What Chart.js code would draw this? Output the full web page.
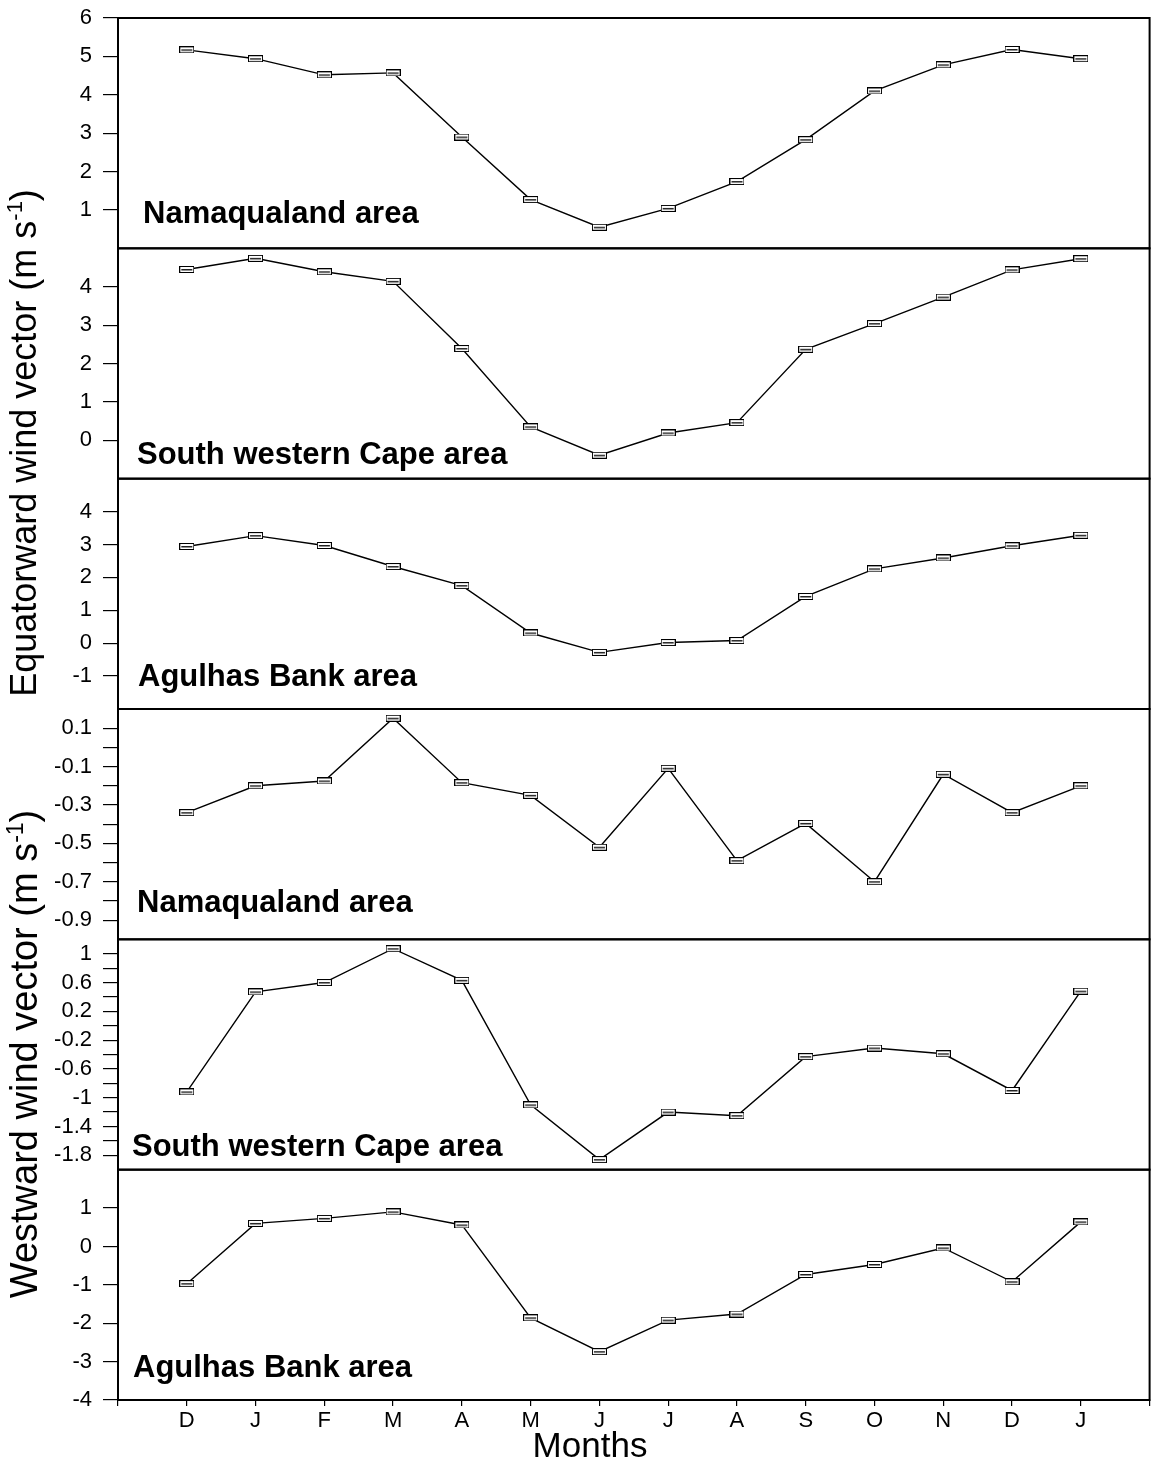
<!DOCTYPE html>
<html>
<head>
<meta charset="utf-8">
<script src="https://cdn.jsdelivr.net/npm/chart.js@4.4.1/dist/chart.umd.min.js"></script>
<style>
  html, body { margin: 0; padding: 0; background: #fff; }
  #wrap { width: 1158px; height: 1463px; position: relative; }
</style>
</head>
<body>
<div id="wrap"><canvas id="c" width="1158" height="1463"></canvas></div>
<script>
// Months, December to the following January
const months = ['D', 'J', 'F', 'M', 'A', 'M', 'J', 'J', 'A', 'S', 'O', 'N', 'D', 'J'];

// Equatorward wind vector (m s-1)
const equatorNamaqualand = [5.17, 4.94, 4.52, 4.57, 2.90, 1.27, 0.55, 1.04, 1.74, 2.83, 4.10, 4.78, 5.18, 4.94];
const equatorSouthWesternCape = [4.45, 4.74, 4.39, 4.14, 2.39, 0.35, -0.39, 0.19, 0.46, 2.37, 3.04, 3.73, 4.44, 4.73];
const equatorAgulhasBank = [2.94, 3.27, 2.97, 2.33, 1.75, 0.31, -0.28, 0.02, 0.08, 1.42, 2.26, 2.59, 2.96, 3.28];

// Westward wind vector (m s-1)
const westNamaqualand = [-0.34, -0.20, -0.175, 0.152, -0.184, -0.25, -0.52, -0.109, -0.59, -0.396, -0.70, -0.14, -0.34, -0.20];
const westSouthWesternCape = [-0.92, 0.47, 0.60, 1.07, 0.63, -1.10, -1.86, -1.20, -1.25, -0.43, -0.31, -0.39, -0.90, 0.48];
const westAgulhasBank = [-0.97, 0.60, 0.73, 0.90, 0.56, -1.86, -2.74, -1.92, -1.76, -0.73, -0.47, -0.04, -0.92, 0.64];

// Panel names, top to bottom
const panelNames = ['Namaqualand area', 'South western Cape area', 'Agulhas Bank area',
                    'Namaqualand area', 'South western Cape area', 'Agulhas Bank area'];
const panelSeries = [equatorNamaqualand, equatorSouthWesternCape, equatorAgulhasBank,
                     westNamaqualand, westSouthWesternCape, westAgulhasBank];

// Axis ranges for each panel
const panelMin = [0, -1, -2, -1, -2, -4];
const panelMax = [6, 5, 5, 0.2, 1.2, 2];

// Tick marks and their labels for each panel ('' = unlabelled mark)
const panelTicks = [
  [1, 2, 3, 4, 5, 6],
  [0, 1, 2, 3, 4],
  [-1, 0, 1, 2, 3, 4],
  [0.1, 0, -0.1, -0.2, -0.3, -0.4, -0.5, -0.6, -0.7, -0.8, -0.9],
  [1, 0.8, 0.6, 0.4, 0.2, 0, -0.2, -0.4, -0.6, -0.8, -1, -1.2, -1.4, -1.6, -1.8],
  [1, 0, -1, -2, -3, -4]
];
const panelTickLabels = [
  ['1', '2', '3', '4', '5', '6'],
  ['0', '1', '2', '3', '4'],
  ['-1', '0', '1', '2', '3', '4'],
  ['0.1', '', '-0.1', '', '-0.3', '', '-0.5', '', '-0.7', '', '-0.9'],
  ['1', '', '0.6', '', '0.2', '', '-0.2', '', '-0.6', '', '-1', '', '-1.4', '', '-1.8'],
  ['1', '0', '-1', '-2', '-3', '-4']
];

// x positions: one empty slot either side of the 14 months
const xTicks = [-1, 0, 1, 2, 3, 4, 5, 6, 7, 8, 9, 10, 11, 12, 13, 14];

const FONT = "'Liberation Sans', Arial, Helvetica, sans-serif";

// Small boxed marker with a bar through it
function makeMarker() {
  const c = document.createElement('canvas');
  c.width = 15; c.height = 7;
  const g = c.getContext('2d');
  g.fillStyle = '#fff';
  g.fillRect(0, 0, 15, 7);
  g.strokeStyle = '#000';
  g.lineWidth = 1;
  g.strokeRect(0.5, 0.5, 14, 6);
  g.fillStyle = '#222';
  g.fillRect(2, 3, 11, 1.5);
  return c;
}
const marker = makeMarker();

// Per-panel placement of the area names: [left inset, baseline above panel bottom]
const nameInset = [[25, 25], [19, 15], [20, 23], [19, 27], [14, 14], [15, 23]];

const datasets = panelSeries.map((series, p) => ({
  label: panelNames[p],
  data: series.map((v, i) => ({ x: i, y: v })),
  xAxisID: 'x',
  yAxisID: 'y' + p,
  borderColor: '#000',
  borderWidth: 1.4,
  pointStyle: marker,
  pointRadius: 7,
  pointHoverRadius: 7,
  fill: false,
  tension: 0
}));

function noEdgePadding(s) {
  s.paddingTop = 0; s.paddingBottom = 0; s.paddingLeft = 0; s.paddingRight = 0;
}

const scales = {
  x: {
    type: 'linear',
    position: 'bottom',
    min: -1,
    max: 14,
    afterBuildTicks: s => { s.ticks = xTicks.map(v => ({ value: v })); },
    afterFit: s => { s.height = 63; noEdgePadding(s); },
    ticks: {
      autoSkip: false,
      maxRotation: 0,
      padding: 2,
      color: '#000',
      font: { family: FONT, size: 22 },
      callback: v => months[Math.round(v)] || ''
    },
    grid: { drawOnChartArea: false, drawTicks: true, tickLength: 6, color: '#000', lineWidth: 1.2 },
    border: { display: true, color: '#000', width: 2 }
  }
};

panelSeries.forEach((_, p) => {
  scales['y' + p] = {
    type: 'linear',
    position: 'left',
    stack: 'panels',
    stackWeight: 1,
    weight: 6 - p,
    offset: false,
    min: panelMin[p],
    max: panelMax[p],
    afterBuildTicks: s => { s.ticks = panelTicks[p].map(v => ({ value: v })); },
    afterFit: s => { s.width = 118; noEdgePadding(s); },
    ticks: {
      autoSkip: false,
      padding: 11,
      color: '#000',
      font: { family: FONT, size: 22 },
      callback: (v, i) => panelTickLabels[p][i]
    },
    grid: { drawOnChartArea: false, drawTicks: true, tickLength: 15, color: '#000', lineWidth: 1.2 },
    border: { display: true, color: '#000', width: 1.6 }
  };
});

// Rotated axis title with a superscript exponent
function drawVerticalTitle(ctx, main, sup, tail, cx, cy, size, supSize) {
  ctx.save();
  ctx.fillStyle = '#000';
  ctx.textBaseline = 'alphabetic';
  ctx.textAlign = 'left';
  ctx.font = size + 'px ' + FONT;
  const wMain = ctx.measureText(main).width;
  const wTail = ctx.measureText(tail).width;
  ctx.font = supSize + 'px ' + FONT;
  const wSup = ctx.measureText(sup).width;
  const total = wMain + wSup + wTail;
  ctx.translate(cx, cy);
  ctx.rotate(-Math.PI / 2);
  let x = -total / 2;
  ctx.font = size + 'px ' + FONT;
  ctx.fillText(main, x, 0);
  x += wMain;
  ctx.font = supSize + 'px ' + FONT;
  ctx.fillText(sup, x, -size * 0.38);
  x += wSup;
  ctx.font = size + 'px ' + FONT;
  ctx.fillText(tail, x, 0);
  ctx.restore();
}

const framePlugin = {
  id: 'panelFrames',
  afterDatasetsDraw(chart) {
    const ctx = chart.ctx;
    const area = chart.chartArea;
    ctx.save();
    ctx.strokeStyle = '#000';
    ctx.lineWidth = 2;
    panelSeries.forEach((_, p) => {
      const s = chart.scales['y' + p];
      ctx.strokeRect(area.left, s.top, area.right - area.left, s.bottom - s.top);
    });
    // area names inside each panel
    ctx.fillStyle = '#000';
    ctx.font = 'bold 31px ' + FONT;
    ctx.textAlign = 'left';
    ctx.textBaseline = 'alphabetic';
    panelSeries.forEach((_, p) => {
      const s = chart.scales['y' + p];
      ctx.fillText(panelNames[p], area.left + nameInset[p][0], s.bottom - nameInset[p][1]);
    });
    ctx.restore();
  },
  afterDraw(chart) {
    const ctx = chart.ctx;
    drawVerticalTitle(ctx, 'Equatorward wind vector (m s', '-1', ')', 36, 443, 36, 22);
    drawVerticalTitle(ctx, 'Westward wind vector (m s', '-1', ')', 37, 1054, 38, 23);
    ctx.save();
    ctx.fillStyle = '#000';
    ctx.font = '35px ' + FONT;
    ctx.textAlign = 'center';
    ctx.textBaseline = 'alphabetic';
    ctx.fillText('Months', 590, 1457);
    ctx.restore();
  }
};

new Chart(document.getElementById('c'), {
  type: 'line',
  data: { datasets },
  options: {
    responsive: false,
    animation: false,
    devicePixelRatio: 1,
    layout: { padding: { top: 18, right: 6, bottom: 0, left: 0 } },
    plugins: { legend: { display: false }, tooltip: { enabled: false } },
    scales
  },
  plugins: [framePlugin]
});
</script>
</body>
</html>
